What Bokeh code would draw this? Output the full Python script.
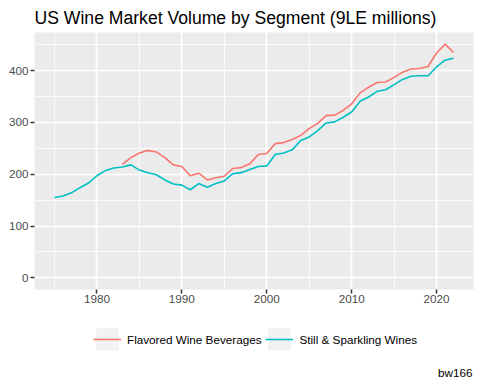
from bokeh.plotting import figure
from bokeh.layouts import column
from bokeh.models import (Range1d, SingleIntervalTicker, Legend, LegendItem, Label)
from bokeh.embed import file_html
from bokeh.resources import INLINE

# ---------------- data ----------------
years_still = list(range(1975, 2023))
still_sparkling = [155, 158, 164, 174, 183, 197, 207, 212, 214, 218,
                   208, 203, 199, 189, 181, 179, 170, 182, 175, 182,
                   187, 201, 203, 209, 215, 216, 238, 241, 247, 265,
                   272, 284, 299, 301, 310, 320, 341, 349, 360, 363,
                   373, 383, 389, 390, 390, 407, 420, 424]

years_flavored = list(range(1983, 2023))
flavored = [219, 232, 241, 246, 243, 232, 218, 215, 197, 202,
            189, 193, 196, 211, 213, 220, 238, 240, 259, 261,
            267, 275, 288, 298, 313, 314, 323, 336, 357, 368,
            377, 378, 387, 397, 403, 404, 408, 434, 451, 435]

series_names = ["Flavored Wine Beverages", "Still & Sparkling Wines"]
series_colors = ["#F8766D", "#00BFC4"]
title_text = "US Wine Market Volume by Segment (9LE millions)"
caption_text = "bw166"

FONT = "Liberation Sans"
LINE_W = 1.6
FRAME_LEFT = 34

# ggplot-like expansion (5%) with y limits expanded to include 0
xmin, xmax = min(years_still), max(years_still)
xpad = (xmax - xmin) * 0.05
ymax = max(max(still_sparkling), max(flavored))
ymin = 0
ypad = (ymax - ymin) * 0.05

# ---------------- main plot ----------------
p = figure(width=480, height=311, output_backend="svg", toolbar_location=None,
           x_range=Range1d(xmin - xpad, xmax + xpad),
           y_range=Range1d(ymin - ypad, ymax + ypad),
           min_border_left=FRAME_LEFT, min_border_right=7, min_border_top=31,
           min_border_bottom=22)

p.background_fill_color = "#EBEBEB"
p.border_fill_color = "white"
p.outline_line_color = None

p.title.text = title_text
p.title.text_font = FONT
p.title.text_font_size = "17.6px"
p.title.text_font_style = "normal"
p.title.text_color = "black"
p.title.align = "left"
p.title.standoff = 10

p.xaxis.ticker = SingleIntervalTicker(interval=10, num_minor_ticks=2)
p.yaxis.ticker = SingleIntervalTicker(interval=100, num_minor_ticks=2)
for ax in (p.xaxis, p.yaxis):
    ax.axis_line_color = None
    ax.major_tick_line_color = "#333333"
    ax.major_tick_line_width = 1.5
    ax.major_tick_out = 4
    ax.major_tick_in = 0
    ax.minor_tick_line_color = None
    ax.major_label_text_font = FONT
    ax.major_label_text_font_size = "11.7px"
    ax.major_label_text_color = "#4D4D4D"
p.xaxis.major_label_standoff = 1
p.yaxis.major_label_standoff = 2

for g in (p.xgrid, p.ygrid):
    g.grid_line_color = "white"
    g.grid_line_width = 1.6
    g.minor_grid_line_color = "white"
    g.minor_grid_line_width = 0.8

p.line(years_flavored, flavored, line_color=series_colors[0], line_width=LINE_W)
p.line(years_still, still_sparkling, line_color=series_colors[1], line_width=LINE_W)

# ---------------- legend + caption strip ----------------
q = figure(width=480, height=73, output_backend="svg", toolbar_location=None,
           x_range=Range1d(0, 1), y_range=Range1d(0, 1),
           x_axis_location=None, y_axis_location=None,
           min_border_left=0, min_border_right=0, min_border_top=0,
           min_border_bottom=0)
q.grid.visible = False
q.outline_line_color = None
q.background_fill_color = "white"
q.border_fill_color = "white"

# hidden renderers: they only provide the legend keys
key_bg = q.quad(left=[years_still[0]], right=[years_still[0]],
                bottom=[still_sparkling[0]], top=[still_sparkling[0]],
                fill_color="#F2F2F2", line_color=None, visible=False)
k_flav = q.line(years_flavored, flavored, line_color=series_colors[0],
                line_width=LINE_W, visible=False)
k_still = q.line(years_still, still_sparkling, line_color=series_colors[1],
                 line_width=LINE_W, visible=False)

# the column aligns this strip's frame with the main frame (left edge at FRAME_LEFT)
legend = Legend(items=[LegendItem(label=series_names[0], renderers=[key_bg, k_flav]),
                       LegendItem(label=series_names[1], renderers=[key_bg, k_still])],
                orientation="horizontal", location=(93 - FRAME_LEFT, 31),
                glyph_width=28, glyph_height=28,
                label_text_font=FONT, label_text_font_size="11.7px",
                label_text_color="black", label_standoff=6, spacing=4,
                padding=0, margin=0, border_line_color=None,
                background_fill_alpha=0)
q.add_layout(legend, "center")

cap = Label(x=472 - FRAME_LEFT, y=12, x_units="screen", y_units="screen",
            text=caption_text, text_align="right", text_baseline="alphabetic",
            text_font=FONT, text_font_size="11.7px", text_color="black")
q.add_layout(cap)

layout = column(p, q, spacing=0)
open("out.html", "w").write(file_html(layout, INLINE))
